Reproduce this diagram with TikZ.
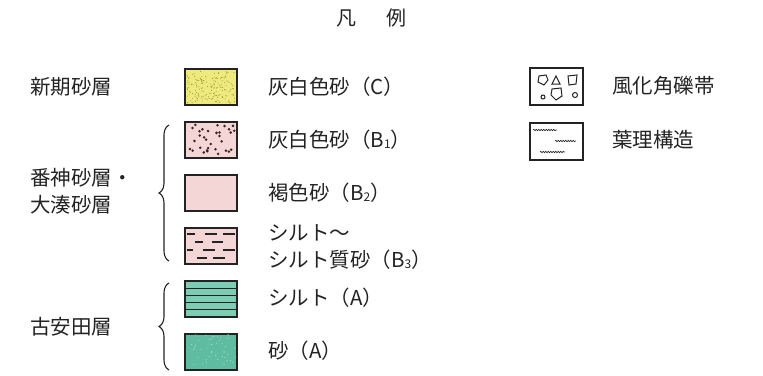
\documentclass[tikz,border=0pt]{standalone}
\usepackage{fontspec}
\newfontfamily\jp{Noto Sans CJK JP}
\usetikzlibrary{decorations.pathreplacing,decorations.pathmorphing}
\definecolor{yel}{RGB}{238,234,125}
\definecolor{yeldot}{RGB}{150,145,50}
\definecolor{pinkc}{RGB}{244,214,214}
\definecolor{dotc}{RGB}{60,35,35}
\definecolor{grn}{RGB}{95,188,160}
\definecolor{grnl}{RGB}{125,205,180}
\definecolor{ink}{RGB}{35,35,35}
\newcommand\mydots[6]{% x0 y0 n radius colour seed
  \pgfmathsetseed{#6}%
  \foreach \k in {1,...,#3}{%
    \pgfmathsetmacro\dx{#1+2+48*rnd}%
    \pgfmathsetmacro\dy{#2+2+32*rnd}%
    \fill[#5] (\dx,\dy) circle (#4);}}
\begin{document}
\begin{tikzpicture}[x=1pt,y=1pt,
  lbl/.style={font=\jp\fontsize{20.5}{24}\selectfont, text=ink, inner sep=0pt, anchor=west},
  leg/.style={draw=ink, line width=1.4pt, minimum width=52pt, minimum height=36pt, inner sep=0pt},
  brc/.style={draw=ink, line width=1.1pt, decorate, decoration={brace, amplitude=10pt}},
  wav/.style={draw=ink, line width=0.6pt, decorate, decoration={snake, amplitude=0.7pt, segment length=2.5pt}}
]
\useasboundingbox (0,0) rectangle (763,-375);
% title
\node[font=\jp\fontsize{20}{24}\selectfont, text=ink, inner sep=0pt] (title) at (371,-18) {凡\hspace{30pt}例};
% left group labels
\node[lbl] (g1) at (30,-87) {新期砂層};
\node[lbl, align=left, font=\jp\fontsize{20.5}{27}\selectfont] (g2) at (30,-191) {番神砂層・\\大湊砂層};
\node[lbl] (g3) at (30,-327) {古安田層};
% braces
\coordinate (b2b) at (169,-261); \coordinate (b2t) at (169,-125);
\coordinate (b3b) at (169,-370); \coordinate (b3t) at (169,-283);
\draw[brc] (b2b) -- (b2t);
\draw[brc] (b3b) -- (b3t);
% box 1 : yellow dotted
\node[leg, fill=yel] (k1) at (211,-87) {};
\begin{scope}\clip (185,-105) rectangle (237,-69);
\mydots{185}{-105}{170}{0.5pt}{yeldot}{11}
\end{scope}
\draw[ink, line width=1.4pt] (k1.south west) rectangle (k1.north east);
% box 2 : pink dotted
\node[leg, fill=pinkc] (k2) at (211,-140) {};
\begin{scope}\clip (185,-158) rectangle (237,-122);
\mydots{185}{-158}{32}{1.4pt}{dotc}{7}
\end{scope}
\draw[ink, line width=1.4pt] (k2.south west) rectangle (k2.north east);
% box 3 : pink plain
\node[leg, fill=pinkc] (k3) at (211,-193) {};
% box 4 : pink with dashes
\node[leg, fill=pinkc] (k4) at (211,-246) {};
\begin{scope}[ink, line width=1.6pt]
\draw (187,-234) -- (195,-234); \draw (205,-234) -- (217,-234); \draw (223,-234) -- (235,-234);
\draw (195,-242) -- (203,-242); \draw (212,-242) -- (223,-242);
\draw (187,-250) -- (193,-250); \draw (203,-250) -- (215,-250); \draw (223,-250) -- (235,-250);
\draw (197,-258) -- (207,-258); \draw (213,-258) -- (225,-258);
\end{scope}
% box 5 : green stripes
\node[leg, fill=grnl] (k5) at (211,-299) {};
\foreach \yy in {-309.8,-302.6,-295.4,-288.2}{\draw[ink, line width=1.3pt] (185,\yy) -- (237,\yy);}
% box 6 : green sand
\node[leg, fill=grn] (k6) at (211,-352) {};
\begin{scope}\clip (185,-370) rectangle (237,-334);
\mydots{189}{-368}{45}{0.6pt}{grnl!70!white}{5}
\end{scope}
\draw[ink, line width=1.4pt] (k6.south west) rectangle (k6.north east);
% descriptions
\node[lbl] (t1) at (268,-87) {灰白色砂（C）};
\node[lbl] (t2) at (268,-140) {灰白色砂（B\raisebox{-1pt}{\fontsize{12}{12}\selectfont 1}）};
\node[lbl] (t3) at (268,-193) {褐色砂（B\raisebox{-1pt}{\fontsize{12}{12}\selectfont 2}）};
\node[lbl] (t4a) at (268,-233) {シルト〜};
\node[lbl] (t4b) at (268,-260) {シルト質砂（B\raisebox{-1pt}{\fontsize{12}{12}\selectfont 3}）};
\node[lbl] (t5) at (268,-298) {シルト（A）};
\node[lbl] (t6) at (268,-351) {砂（A）};
% right column
\node[leg, fill=white, minimum width=53pt, minimum height=37pt] (k7) at (556.5,-86.5) {};
\begin{scope}[ink, line width=1pt]
\draw (539,-76) -- (546,-75) -- (548,-80) -- (544,-85) -- (538,-82) -- cycle;
\draw (552,-84) -- (556,-76) -- (560,-84) -- cycle;
\draw (568,-76) -- (577,-75) -- (576,-84) -- (569,-85) -- cycle;
\draw (543,-97) circle (2pt);
\draw (552,-89) -- (561,-88) -- (562,-96) -- (556,-100) -- (551,-95) -- cycle;
\draw (575,-95) circle (2.5pt);
\end{scope}
\node[lbl] (t7) at (612,-86) {風化角礫帯};
\node[leg, fill=white, minimum width=53pt, minimum height=37pt] (k8) at (556.5,-141.5) {};
\coordinate (w1a) at (533,-130); \coordinate (w1b) at (557,-130);
\coordinate (w2a) at (555,-141); \coordinate (w2b) at (576,-141);
\coordinate (w3a) at (540,-152); \coordinate (w3b) at (565,-152);
\draw[wav] (w1a) -- (w1b);
\draw[wav] (w2a) -- (w2b);
\draw[wav] (w3a) -- (w3b);
\node[lbl] (t8) at (612,-140) {葉理構造};
\end{tikzpicture}
\end{document}
